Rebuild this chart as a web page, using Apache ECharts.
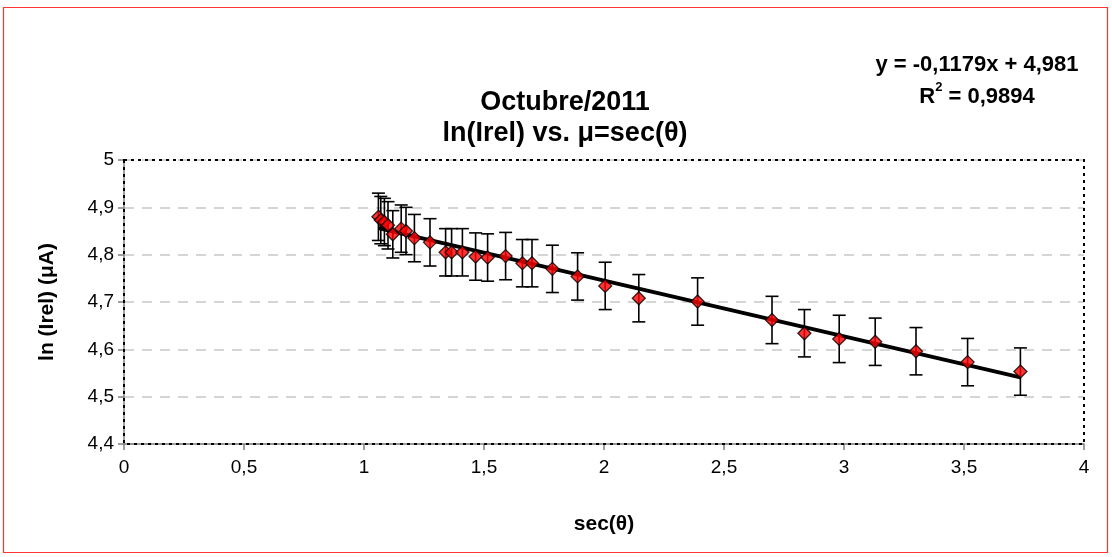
<!DOCTYPE html>
<html>
<head>
<meta charset="utf-8">
<script src="https://cdn.jsdelivr.net/npm/echarts@6/dist/echarts.min.js"></script>
<style>
html,body{margin:0;padding:0;background:#fff;}
#main{width:1112px;height:557px;}
</style>
</head>
<body>
<div id="main"></div>
<script>
// ---- data ----
const secTheta = [1.06, 1.07, 1.085, 1.10, 1.12, 1.155, 1.175, 1.21, 1.275, 1.34, 1.365, 1.41, 1.465, 1.515, 1.59, 1.66, 1.70, 1.785, 1.89, 2.005, 2.145, 2.39, 2.70, 2.835, 2.98, 3.13, 3.30, 3.515, 3.735];
const lnIrel = [4.880, 4.873, 4.869, 4.862, 4.843, 4.855, 4.850, 4.835, 4.826, 4.805, 4.805, 4.805, 4.796, 4.794, 4.797, 4.782, 4.782, 4.770, 4.754, 4.734, 4.708, 4.701, 4.662, 4.634, 4.622, 4.616, 4.596, 4.573, 4.553];
const errBar = [0.05,0.05,0.05,0.05,0.05,0.05,0.05,0.05,0.05,0.05,0.05,0.05,0.05,0.05,0.05,0.05,0.05,0.05,0.05,0.05,0.05,0.05,0.05,0.05,0.05,0.05,0.05,0.05,0.05];
const fitSlope = [-0.1179];
const fitIntercept = [4.981];
const titleLines = ['Octubre/2011', 'ln(Irel) vs. \u03bc=sec(\u03b8)'];
const equationLines = ['y = -0,1179x + 4,981', 'R{sup|2} = 0,9894'];
const xTitle = 'sec(\u03b8)';
const yTitle = 'ln (Irel) (\u03bcA)';

const points = secTheta.map((x, i) => [x, lnIrel[i]]);
const errData = secTheta.map((x, i) => [x, lnIrel[i] - errBar[i], lnIrel[i] + errBar[i]]);
const xMin = Math.min(...secTheta), xMax = Math.max(...secTheta);
const fitLine = [[xMin, fitSlope[0]*xMin + fitIntercept[0]], [xMax, fitSlope[0]*xMax + fitIntercept[0]]];
const comma = v => String(+v.toFixed(2)).replace('.', ',');

const FONT = 'Liberation Sans, Arial, sans-serif';
const chart = echarts.init(document.getElementById('main'), null, {renderer: 'canvas'});
const option = {
  backgroundColor: '#fff',
  animation: false,
  title: [
    {text: titleLines.join('\n'), left: 560, top: 82, textAlign: 'center',
     textStyle: {fontFamily: FONT, fontWeight: 'bold', fontSize: 27, lineHeight: 31, color: '#000'}},
    {text: equationLines[0] + '\n' + equationLines[1], left: 972, top: 44, textAlign: 'center',
     textStyle: {fontFamily: FONT, fontWeight: 'bold', fontSize: 22, lineHeight: 32, color: '#000',
       rich: {sup: {fontSize: 13, fontWeight: 'bold', verticalAlign: 'top', padding: [0,0,12,0], fontFamily: FONT}}}}
  ],
  grid: {left: 124, top: 160, width: 960, height: 284, containLabel: false},
  xAxis: {
    type: 'value', min: 0, max: 4, interval: 0.5,
    name: xTitle, nameLocation: 'middle', nameGap: 70,
    nameTextStyle: {fontFamily: FONT, fontWeight: 'bold', fontSize: 21, color: '#000'},
    axisLine: {show: true, lineStyle: {color: '#808080', width: 1.5}},
    axisTick: {show: true, inside: false, length: 6, lineStyle: {color: '#808080', width: 1.5}},
    axisLabel: {formatter: comma, fontFamily: FONT, fontSize: 19, color: '#000', margin: 14},
    splitLine: {show: false}
  },
  yAxis: {
    type: 'value', min: 4.4, max: 5, interval: 0.1,
    name: yTitle, nameLocation: 'middle', nameGap: 66,
    nameTextStyle: {fontFamily: FONT, fontWeight: 'bold', fontSize: 21, color: '#000'},
    axisLine: {show: true, lineStyle: {color: '#808080', width: 1.5}},
    axisTick: {show: true, inside: false, length: 6, lineStyle: {color: '#808080', width: 1.5}},
    axisLabel: {formatter: comma, fontFamily: FONT, fontSize: 19, color: '#000', margin: 10},
    splitLine: {show: true, lineStyle: {color: '#c8c8c8', type: [10, 8], width: 1.5}}
  },
  series: [
    {
      type: 'line', data: fitLine, symbol: 'none', silent: true, z: 3,
      lineStyle: {color: '#000', width: 3.8}
    },
    {
      type: 'custom', z: 2,
      data: errData,
      encode: {x: 0, y: [1, 2]},
      renderItem: function (params, api) {
        const x = api.value(0);
        const lo = api.coord([x, api.value(1)]);
        const hi = api.coord([x, api.value(2)]);
        const cap = 6.5;
        const st = {stroke: '#000', lineWidth: 1.6};
        return {type: 'group', children: [
          {type: 'line', shape: {x1: lo[0], y1: lo[1], x2: hi[0], y2: hi[1]}, style: st},
          {type: 'line', shape: {x1: lo[0]-cap, y1: lo[1], x2: lo[0]+cap, y2: lo[1]}, style: st},
          {type: 'line', shape: {x1: hi[0]-cap, y1: hi[1], x2: hi[0]+cap, y2: hi[1]}, style: st}
        ]};
      }
    },
    {
      type: 'scatter', data: points, symbol: 'diamond', symbolSize: 13, z: 4,
      itemStyle: {color: '#ff0000', borderColor: '#000', borderWidth: 1.3}
    }
  ]
};
chart.setOption(option);

// frame: dotted plot-area border and red outer border
const tl = chart.convertToPixel({gridIndex: 0}, [0, 5]);
const br = chart.convertToPixel({gridIndex: 0}, [4, 4.4]);
chart.setOption({
  graphic: [
    {type: 'rect', shape: {x: 3.5, y: 7.5, width: 1104, height: 545}, style: {fill: 'none', stroke: '#ff3333', lineWidth: 1.2}, z: 0},
    {type: 'rect', shape: {x: tl[0], y: tl[1], width: br[0]-tl[0], height: br[1]-tl[1]},
     style: {fill: 'none', stroke: '#000', lineWidth: 2, lineDash: [3, 4]}, z: 10, silent: true}
  ]
});
</script>
</body>
</html>
